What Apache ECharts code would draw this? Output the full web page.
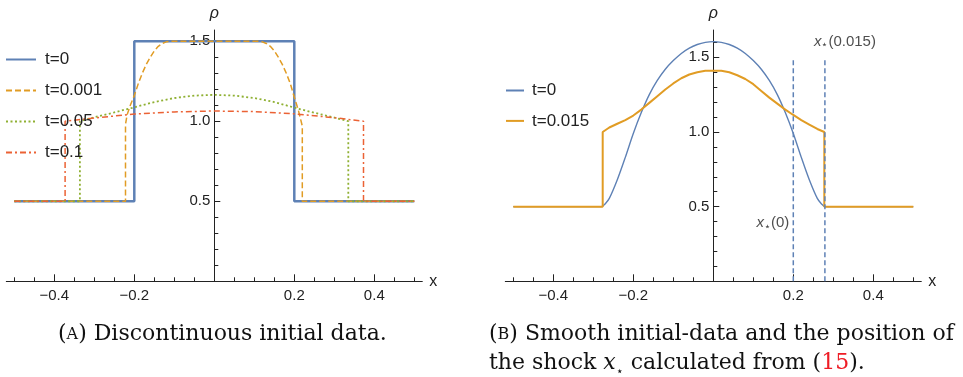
<!DOCTYPE html>
<html>
<head>
<meta charset="utf-8">
<script src="https://cdn.jsdelivr.net/npm/echarts@6/dist/echarts.min.js"></script>
<style>
  html, body { margin: 0; padding: 0; background: #fff; }
  #main { width: 963px; height: 377px; }
</style>
</head>
<body>
<div id="main"></div>
<script>
// ---- panel A : discontinuous initial data ----
var xA0 = [-0.5, -0.2, -0.2, 0.2, 0.2, 0.5];
var yA0 = [0.5, 0.5, 1.5, 1.5, 0.5, 0.5];

var xA1 = [-0.5, -0.222, -0.222, -0.218, -0.21, -0.2, -0.19, -0.18, -0.17, -0.16, -0.15, -0.14, -0.13, -0.12, -0.11,
           0.11, 0.12, 0.13, 0.14, 0.15, 0.16, 0.17, 0.18, 0.19, 0.2, 0.21, 0.216, 0.22, 0.22, 0.5];
var yA1 = [0.5, 0.5, 0.98, 1.04, 1.10, 1.16, 1.235, 1.30, 1.355, 1.40, 1.44, 1.468, 1.486, 1.496, 1.5,
           1.5, 1.496, 1.486, 1.468, 1.44, 1.40, 1.355, 1.30, 1.235, 1.15, 1.07, 1.01, 0.97, 0.5, 0.5];

var xA2 = [-0.5, -0.336, -0.336, -0.3, -0.25, -0.2, -0.15, -0.1, -0.05, 0, 0.05, 0.1, 0.15, 0.2, 0.25, 0.3, 0.335, 0.335, 0.5];
var yA2 = [0.5, 0.5, 1.0, 1.025, 1.055, 1.087, 1.12, 1.145, 1.16, 1.165, 1.16, 1.145, 1.12, 1.085, 1.053, 1.023, 1.0, 0.5, 0.5];

var xA3 = [-0.5, -0.373, -0.373, -0.3, -0.2, -0.1, 0, 0.1, 0.2, 0.3, 0.373, 0.373, 0.5];
var yA3 = [0.5, 0.5, 1.0, 1.02, 1.045, 1.058, 1.064, 1.06, 1.046, 1.022, 1.0, 0.5, 0.5];

// ---- panel B : smooth initial data ----
var xB0 = [-0.5, -0.28, -0.27, -0.26, -0.24, -0.22, -0.2, -0.18, -0.16, -0.14, -0.12, -0.1, -0.08, -0.06, -0.04, -0.02, 0,
           0.02, 0.04, 0.06, 0.08, 0.1, 0.12, 0.14, 0.16, 0.18, 0.2, 0.22, 0.24, 0.26, 0.27, 0.28, 0.5];
var yB0 = [0.5, 0.5, 0.52, 0.555, 0.68, 0.83, 0.99, 1.13, 1.25, 1.345, 1.42, 1.478, 1.526, 1.562, 1.586, 1.6, 1.605,
           1.6, 1.586, 1.562, 1.526, 1.478, 1.42, 1.345, 1.25, 1.13, 0.99, 0.83, 0.68, 0.555, 0.52, 0.5, 0.5];

var xB1 = [-0.5, -0.2765, -0.2765, -0.26, -0.24, -0.22, -0.2, -0.18, -0.16, -0.14, -0.12, -0.1, -0.08, -0.06, -0.04, -0.02, 0,
           0.02, 0.04, 0.06, 0.08, 0.1, 0.12, 0.14, 0.16, 0.18, 0.2, 0.22, 0.24, 0.26, 0.2775, 0.2775, 0.5];
var yB1 = [0.5, 0.5, 1.0, 1.03, 1.055, 1.08, 1.11, 1.15, 1.195, 1.24, 1.285, 1.325, 1.36, 1.385, 1.4, 1.41, 1.41,
           1.41, 1.4, 1.38, 1.355, 1.32, 1.275, 1.23, 1.19, 1.15, 1.114, 1.08, 1.05, 1.02, 1.0, 0.5, 0.5];

var shockX = [0.2, 0.279];
var shockTop = 1.49;
var shockLabels = ['(0)', '(0.015)'];

// ---- ticks ----
var xTickValues = [-0.4, -0.2, 0.2, 0.4];
var xTickLabels = ['\u22120.4', '\u22120.2', '0.2', '0.4'];
var xMinorValues = [-0.5, -0.45, -0.35, -0.3, -0.25, -0.15, -0.1, -0.05, 0.05, 0.1, 0.15, 0.25, 0.3, 0.35, 0.45, 0.5];
var yTickValues = [0.5, 1.0, 1.5];
var yTickLabels = ['0.5', '1.0', '1.5'];
var yMinorA = [0.1, 0.2, 0.3, 0.4, 0.6, 0.7, 0.8, 0.9, 1.1, 1.2, 1.3, 1.4];
var yMinorB = [0.1, 0.2, 0.3, 0.4, 0.6, 0.7, 0.8, 0.9, 1.1, 1.2, 1.3, 1.4, 1.6];

function pair(xs, ys) {
  return xs.map(function (x, i) { return [x, ys[i]]; });
}
function pick(vals, labels) {
  return function (v) {
    for (var i = 0; i < vals.length; i++) {
      if (Math.abs(vals[i] - v) < 1e-6) return labels[i];
    }
    return '';
  };
}

var BLUE = '#5E81B5', ORANGE = '#E19C24', GREEN = '#8FB032', RED = '#EB6235';
var AXIS = '#222';
var FONT = 'Liberation Sans';
var Y_SHIFT = -208; // puts the vertical axis at x = 0

function majorX(grid) {
  return {
    type: 'value', gridIndex: grid, min: -0.52, max: 0.52, position: 'bottom',
    name: 'x', nameLocation: 'end', nameGap: 7,
    nameTextStyle: { fontFamily: FONT, fontSize: 16, color: AXIS, verticalAlign: 'middle' },
    axisLine: { onZero: false, lineStyle: { color: AXIS, width: 1 } },
    axisTick: { inside: true, length: 7, customValues: xTickValues, lineStyle: { color: AXIS } },
    axisLabel: { customValues: xTickValues, formatter: pick(xTickValues, xTickLabels), margin: 7,
                 fontFamily: FONT, fontSize: 15, color: AXIS },
    splitLine: { show: false }
  };
}
function minorX(grid) {
  return {
    type: 'value', gridIndex: grid, min: -0.52, max: 0.52, position: 'bottom',
    axisLine: { show: false, onZero: false },
    axisTick: { inside: true, length: 4, customValues: xMinorValues, lineStyle: { color: AXIS } },
    axisLabel: { show: false },
    splitLine: { show: false }
  };
}
function majorY(grid, max) {
  return {
    type: 'value', gridIndex: grid, min: 0, max: max, position: 'left', offset: Y_SHIFT,
    name: '\u03c1', nameLocation: 'end', nameGap: 8,
    nameTextStyle: { fontFamily: FONT, fontSize: 16, fontStyle: 'italic', color: AXIS, align: 'center' },
    axisLine: { onZero: false, lineStyle: { color: AXIS, width: 1 } },
    axisTick: { inside: true, length: 6, customValues: yTickValues, lineStyle: { color: AXIS } },
    axisLabel: { customValues: yTickValues, formatter: pick(yTickValues, yTickLabels), margin: 4,
                 fontFamily: FONT, fontSize: 15, color: AXIS },
    splitLine: { show: false }
  };
}
function minorY(grid, max, vals) {
  return {
    type: 'value', gridIndex: grid, min: 0, max: max, position: 'left', offset: Y_SHIFT,
    axisLine: { show: false, onZero: false },
    axisTick: { inside: true, length: 4, customValues: vals, lineStyle: { color: AXIS } },
    axisLabel: { show: false },
    splitLine: { show: false }
  };
}
function curve(name, xi, yi, data, color, width, type) {
  return {
    name: name, type: 'line', xAxisIndex: xi, yAxisIndex: yi, data: data,
    symbol: 'none', showSymbol: false, color: color, silent: true,
    lineStyle: { color: color, width: width, type: type }
  };
}

var starRich = {
  i: { fontFamily: FONT, fontSize: 15, fontStyle: 'italic', color: AXIS, lineHeight: 18 },
  s: { fontFamily: FONT, fontSize: 11, color: AXIS, lineHeight: 14, verticalAlign: 'bottom' },
  n: { fontFamily: FONT, fontSize: 15, color: AXIS, lineHeight: 18 }
};
function starText(k) { return '{i|x}{s|\u22c6}{n|' + shockLabels[k] + '}'; }

var SERIF = 'DejaVu Serif';
var capRich = {
  p: { fontFamily: SERIF, fontSize: 22, fontWeight: 'normal', color: '#111', lineHeight: 29 },
  sc: { fontFamily: SERIF, fontSize: 16, fontWeight: 'normal', color: '#111', lineHeight: 29 },
  it: { fontFamily: SERIF, fontSize: 22, fontWeight: 'normal', fontStyle: 'italic', color: '#111', lineHeight: 29 },
  sub: { fontFamily: SERIF, fontSize: 12, fontWeight: 'normal', color: '#111', lineHeight: 18, verticalAlign: 'bottom' },
  red: { fontFamily: SERIF, fontSize: 22, fontWeight: 'normal', color: '#ee1c25', lineHeight: 29 }
};

var blueB = curve('t=0 ', 2, 2, pair(xB0, yB0), BLUE, 1.4, 'solid');
blueB.smooth = 0.3;

var chart = echarts.init(document.getElementById('main'));
chart.setOption({
  animation: false,
  backgroundColor: '#fff',
  grid: [
    { left: 6.3, top: 30, width: 416, height: 251.3, outerBoundsMode: 'none', containLabel: false },
    { left: 505.3, top: 30, width: 416, height: 251.3, outerBoundsMode: 'none', containLabel: false }
  ],
  xAxis: [majorX(0), minorX(0), majorX(1), minorX(1)],
  yAxis: [majorY(0, 1.57), minorY(0, 1.57, yMinorA), majorY(1, 1.683), minorY(1, 1.683, yMinorB)],
  legend: [
    {
      data: ['t=0', 't=0.001', 't=0.05', 't=0.1'], orient: 'vertical', left: 5, top: 51, padding: 0,
      itemWidth: 30, itemHeight: 14, itemGap: 14, selectedMode: false,
      itemStyle: { opacity: 0 },
      textStyle: { fontFamily: FONT, fontSize: 17, color: AXIS, lineHeight: 14, padding: [0, 0, 0, 4] }
    },
    {
      data: ['t=0 ', 't=0.015'], orient: 'vertical', left: 505, top: 82, padding: 0,
      itemWidth: 18, itemHeight: 14, itemGap: 13.4, selectedMode: false,
      itemStyle: { opacity: 0 },
      formatter: function (n) { return n.trim(); },
      textStyle: { fontFamily: FONT, fontSize: 17, color: AXIS, lineHeight: 14, padding: [0, 0, 0, 3] }
    }
  ],
  title: [
    {
      text: '{p|(}{sc|A}{p|) Discontinuous initial data.}',
      left: 58, top: 320, padding: 0,
      textStyle: { fontWeight: 'normal', rich: capRich }
    },
    {
      text: '{p|(}{sc|B}{p|) Smooth initial-data and the position of}\n' +
            '{p|the shock }{it|x}{sub|\u22c6}{p| calculated from (}{red|15}{p|).}',
      left: 489, top: 320, padding: 0,
      textStyle: { fontWeight: 'normal', rich: capRich }
    }
  ],
  series: [
    curve('t=0', 0, 0, pair(xA0, yA0), BLUE, 2.5, 'solid'),
    curve('t=0.001', 0, 0, pair(xA1, yA1), ORANGE, 1.5, [6, 3]),
    curve('t=0.05', 0, 0, pair(xA2, yA2), GREEN, 1.8, [2, 2.5]),
    curve('t=0.1', 0, 0, pair(xA3, yA3), RED, 1.5, [6, 3, 2, 3]),

    blueB,
    curve('t=0.015', 2, 2, pair(xB1, yB1), ORANGE, 2, 'solid'),
    curve('shock0', 2, 2, [[shockX[0], 0], [shockX[0], shockTop]], BLUE, 1.5, [5, 3]),
    curve('shock1', 2, 2, [[shockX[1], 0], [shockX[1], shockTop]], BLUE, 1.5, [5, 3]),
    {
      name: 'shockLabels', type: 'scatter', xAxisIndex: 2, yAxisIndex: 2, symbolSize: 0, silent: true,
      data: [
        { value: [shockX[0], 0.39], label: { show: true, position: 'left', distance: 4, formatter: starText(0), rich: starRich } },
        { value: [shockX[1], shockTop], label: { show: true, position: 'top', distance: 8, offset: [20, 0], formatter: starText(1), rich: starRich } }
      ]
    }
  ]
});
</script>
</body>
</html>
